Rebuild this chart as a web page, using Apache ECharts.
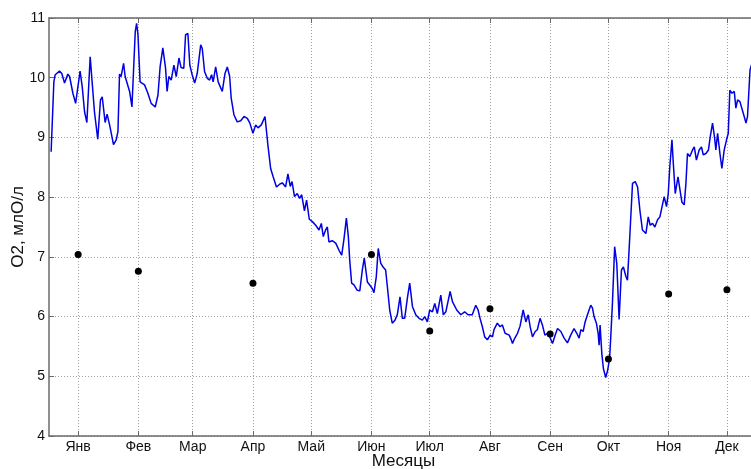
<!DOCTYPE html>
<html>
<head>
<meta charset="utf-8">
<script src="https://cdn.jsdelivr.net/npm/echarts@6/dist/echarts.min.js"></script>
<style>
  html, body { margin: 0; padding: 0; background: #fff; }
  #chart { width: 751px; height: 469px; }
</style>
</head>
<body>
<div id="chart"></div>
<script>
// Month tick labels and their day-of-year positions (15th of each month)
const monthNames = ['Янв', 'Фев', 'Мар', 'Апр', 'Май', 'Июн', 'Июл', 'Авг', 'Сен', 'Окт', 'Ноя', 'Дек'];
const monthTickDays = [15, 46, 74, 105, 135, 166, 196, 227, 258, 288, 319, 349];

// Daily dissolved oxygen record: day of year and O2, ml/l
const o2Days = [
  1.1, 2.5, 3.2, 5.4, 6.6, 8.0, 9.7, 10.6, 12.3, 13.7, 14.5, 16.0, 17.1, 18.3, 19.5,
  21.2, 22.2, 23.4, 25.1, 26.5, 27.4, 28.9, 29.9, 31.2, 33.2, 34.6, 35.5, 36.3, 37.1,
  38.4, 39.2, 41.5, 42.7, 43.3, 44.4, 45.1, 45.8, 46.9, 49.2, 50.9, 52.6, 54.7, 56.1,
  57.2, 58.6, 60.0, 60.8, 61.7, 62.9, 64.3, 65.5, 66.9, 68.0, 69.4, 70.3, 71.5, 72.5,
  73.7, 75.0, 76.3, 77.2, 78.1, 78.9, 80.1, 81.5, 82.7, 83.7, 84.5, 85.8, 87.1, 89.2,
  90.6, 91.8, 93.0, 93.8, 95.2, 96.9, 98.7, 100.4, 102.1, 103.4, 105.0, 106.4, 107.6,
  109.3, 111.2, 112.7, 114.1, 115.4, 117.1, 118.9, 120.1, 121.8, 123.0, 124.2, 125.1,
  126.4, 127.8, 129.0, 130.1, 131.5, 132.6, 134.0, 135.6, 137.3, 139.0, 140.2, 141.2,
  142.4, 143.3, 144.1, 145.8, 147.6, 149.3, 150.7, 151.9, 153.1, 154.1, 154.8, 155.8,
  157.0, 158.7, 160.0, 161.3, 162.3, 163.0, 163.9, 165.1, 166.4, 167.3, 168.5, 169.5,
  170.8, 172.0, 173.3, 174.2, 175.4, 176.7, 178.1, 179.3, 180.7, 181.9, 183.1, 184.5,
  185.7, 187.1, 188.8, 190.5, 192.2, 193.4, 194.8, 196.0, 197.4, 198.6, 199.9, 201.7,
  203.0, 204.3, 206.5, 207.7, 208.5, 209.9, 212.0, 214.0, 215.7, 217.9, 219.7, 220.9,
  221.9, 223.1, 224.3, 225.7, 227.1, 228.3, 229.1, 230.8, 232.2, 233.4, 234.8, 236.9,
  238.0, 238.6, 239.8, 241.2, 242.5, 244.1, 245.5, 246.7, 247.7, 248.9, 250.3, 251.4,
  252.8, 254.0, 255.3, 256.6, 257.8, 259.2, 260.6, 261.8, 263.5, 265.2, 266.9, 268.6,
  270.3, 271.7, 272.9, 273.8, 275.0, 276.0, 277.2, 278.1, 278.9, 279.8, 280.6, 281.8,
  282.7, 283.2, 283.7, 284.6, 285.4, 286.6, 287.6, 288.6, 289.3, 290.1, 291.2, 292.3,
  293.5, 294.7, 295.7, 297.0, 297.8, 299.0, 300.4, 301.8, 303.0, 304.2, 305.5, 307.3,
  308.5, 309.5, 310.7, 311.9, 313.3, 314.5, 315.5, 316.7, 317.9, 318.8, 319.6, 320.7,
  321.3, 322.4, 323.8, 324.8, 325.8, 327.0, 327.9, 328.7, 329.9, 331.3, 332.2, 333.3,
  334.7, 335.9, 336.8, 338.2, 339.5, 340.4, 341.6, 342.6, 343.3, 344.2, 345.4, 346.4,
  347.6, 348.8, 349.7, 350.5, 351.6, 352.8, 353.6, 354.5, 355.7, 356.7, 357.9, 358.8,
  359.6, 360.9, 362.0
];
const o2Values = [
  8.76, 9.93, 10.05, 10.11, 10.07, 9.91, 10.06, 10.02, 9.74, 9.57, 9.59, 10.11, 9.85, 9.43, 9.25,
  10.35, 9.93, 9.43, 8.97, 9.63, 9.68, 9.25, 9.39, 9.21, 8.88, 8.96, 9.10, 10.06, 10.02,
  10.24, 10.02, 9.77, 9.51, 9.51, 10.77, 10.91, 10.72, 9.93, 9.88, 9.74, 9.57, 9.51, 9.71,
  10.18, 10.50, 10.16, 9.77, 10.02, 9.96, 10.21, 10.02, 10.33, 10.17, 10.16, 10.72, 10.74, 10.21,
  10.05, 9.91, 10.07, 10.05, 10.55, 10.49, 10.10, 9.99, 9.96, 10.05, 9.93, 10.18, 9.93, 9.77,
  10.07, 10.18, 10.02, 9.66, 9.38, 9.26, 9.28, 9.35, 9.32, 9.24, 9.07, 9.21, 9.16,
  9.21, 9.35, 8.87, 8.48, 8.34, 8.17, 8.22, 8.24, 8.17, 8.39, 8.18, 8.26,
  8.01, 8.06, 7.98, 8.04, 7.77, 7.95, 7.63, 7.59, 7.53, 7.45, 7.56, 7.34,
  7.45, 7.50, 7.25, 7.27, 7.23, 7.11, 7.03, 7.31, 7.65, 7.34, 6.95, 6.56,
  6.53, 6.44, 6.43, 6.78, 6.98, 6.95, 6.58, 6.53, 6.47, 6.40, 6.67, 7.14,
  6.89, 6.83, 6.78, 6.50, 6.11, 5.89, 5.94, 6.03, 6.33, 5.97, 5.97, 6.31,
  6.56, 6.17, 6.03, 5.97, 5.94, 6.00, 5.91, 6.11, 6.08, 6.22, 6.05, 6.36,
  6.03, 6.08, 6.42, 6.25, 6.28, 6.11, 6.03, 6.08, 6.03, 6.03, 6.19, 6.11,
  5.97, 5.83, 5.66, 5.61, 5.69, 5.66, 5.78, 5.89, 5.83, 5.86, 5.72, 5.69,
  5.61, 5.55, 5.64, 5.72, 5.84, 6.11, 5.91, 6.03, 5.83, 5.66, 5.75, 5.78,
  5.97, 5.86, 5.69, 5.72, 5.66, 5.55, 5.69, 5.80, 5.75, 5.64, 5.56, 5.69,
  5.80, 5.72, 5.64, 5.78, 5.75, 5.91, 6.03, 6.00, 6.19, 6.14, 6.00, 5.89,
  5.72, 5.52, 5.86, 5.38, 5.13, 4.98, 5.10, 5.30, 5.72, 6.25, 7.17, 6.89,
  5.95, 6.78, 6.83, 6.67, 6.61, 7.34, 8.23, 8.26, 8.17, 7.78, 7.45, 7.39,
  7.67, 7.53, 7.56, 7.50, 7.62, 7.67, 7.65, 8.01, 7.84, 8.06, 8.51, 8.96,
  8.62, 8.06, 8.34, 8.37, 7.92, 7.87, 8.23, 8.73, 8.68, 8.79, 8.84, 8.62,
  8.79, 8.84, 8.71, 8.73, 8.79, 9.01, 9.24, 9.01, 8.79, 9.07, 8.73, 8.48,
  8.79, 8.96, 9.07, 9.79, 9.74, 9.77, 9.49, 9.63, 9.60, 9.63, 9.35, 9.24,
  9.35, 10.13, 10.25
];

// Monthly sample measurements (mid-month)
const sampleDays = [15, 46, 105, 166, 196, 227, 258, 288, 319, 349];
const sampleValues = [7.04, 6.76, 6.56, 7.04, 5.76, 6.13, 5.71, 5.29, 6.38, 6.45];

// Y axis range and step
const yMin = 4, yMax = 11, yStep = 1;
const dayMax = 365;

// Day-of-year category list used for month ticks and grid lines
const dayCategories = [];
for (let d = 0; d <= dayMax; d++) dayCategories.push(String(d));
const isMonthTick = (index) => monthTickDays.indexOf(index) !== -1;

const textFont = '"Liberation Sans", Arial, Helvetica, sans-serif';
const axisColor = '#6a6a6a';
const gridLine = { show: true, interval: isMonthTick, lineStyle: { color: '#a0a0a0', width: 1, type: [1, 2] } };

const chart = echarts.init(document.getElementById('chart'), null, { renderer: 'canvas' });
chart.setOption({
  animation: false,
  backgroundColor: '#ffffff',
  grid: { left: 49, top: 18, right: -7, bottom: 33, containLabel: false, outerBoundsMode: 'none' },
  xAxis: [
    {
      type: 'category',
      data: dayCategories,
      boundaryGap: false,
      position: 'bottom',
      name: 'Месяцы',
      nameLocation: 'middle',
      nameGap: 17,
      nameMoveOverlap: false,
      nameTextStyle: { fontFamily: textFont, fontSize: 17, color: '#111' },
      axisLine: { show: true, lineStyle: { color: axisColor, width: 1.5 } },
      axisTick: { show: true, inside: true, length: 5, interval: isMonthTick, lineStyle: { color: axisColor } },
      axisLabel: {
        show: true,
        interval: isMonthTick,
        margin: 4,
        fontFamily: textFont,
        fontSize: 14,
        color: '#111',
        formatter: (value, index) => monthNames[monthTickDays.indexOf(index)] || ''
      },
      splitLine: gridLine
    },
    {
      type: 'value',
      min: 0,
      max: dayMax,
      show: false
    },
    {
      type: 'category',
      data: dayCategories,
      boundaryGap: false,
      position: 'top',
      axisLine: { show: true, lineStyle: { color: axisColor, width: 1.5 } },
      axisTick: { show: true, inside: true, length: 5, interval: isMonthTick, lineStyle: { color: axisColor } },
      axisLabel: { show: false },
      splitLine: { show: false }
    }
  ],
  yAxis: {
    type: 'value',
    min: yMin,
    max: yMax,
    interval: yStep,
    name: 'O2, млО/л',
    nameLocation: 'middle',
    nameGap: 22,
    nameMoveOverlap: false,
    nameTextStyle: { fontFamily: textFont, fontSize: 17, color: '#111' },
    axisLine: { show: true, lineStyle: { color: axisColor, width: 1.5 } },
    axisTick: { show: true, inside: true, length: 5, lineStyle: { color: axisColor } },
    axisLabel: { margin: 4, fontFamily: textFont, fontSize: 14, color: '#111' },
    splitLine: { show: true, lineStyle: { color: '#a0a0a0', width: 1, type: [1, 2] } }
  },
  series: [
    {
      type: 'line',
      xAxisIndex: 1,
      data: o2Days.map((d, i) => [d, o2Values[i]]),
      showSymbol: false,
      lineStyle: { color: '#0000e0', width: 1.5 },
      z: 3
    },
    {
      type: 'scatter',
      xAxisIndex: 1,
      data: sampleDays.map((d, i) => [d, sampleValues[i]]),
      symbol: 'circle',
      symbolSize: 7,
      itemStyle: { color: '#000000', opacity: 1 },
      z: 4
    }
  ]
});
</script>
</body>
</html>
